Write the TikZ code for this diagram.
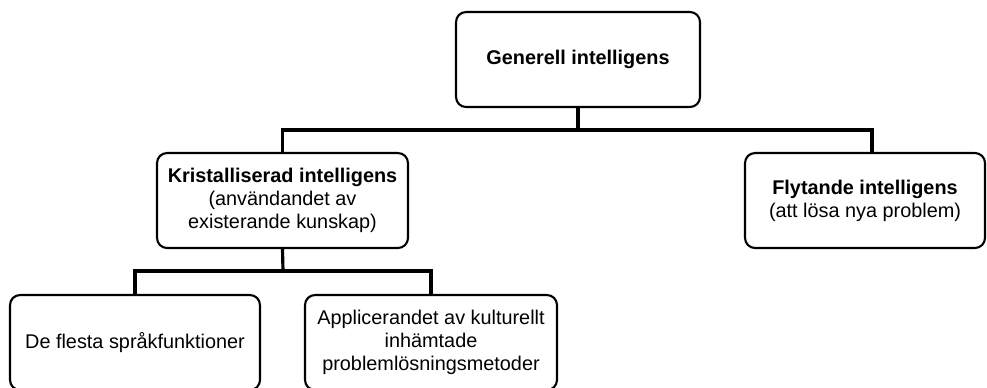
\documentclass[tikz,border=0pt]{standalone}
\usepackage{fontspec}
\setmainfont{Liberation Sans}
\usetikzlibrary{positioning}

\begin{document}
\begin{tikzpicture}[x=0.02cm,y=-0.02cm]
    \tikzset{
      box/.style={draw=black,line width=1.2pt,rounded corners=0.2cm,fill=white,
        minimum height=1.9cm,align=center,
        font=\fontsize{11.3}{13.2}\selectfont},
      link/.style={draw=black,line width=1.8pt}
    }
    \clip (0,0) rectangle (987,387);
    \node[box,minimum width=4.88cm] (gen) at (578,59.5) {\textbf{Generell intelligens}};
    \node[box,minimum width=5.02cm] (krist) at (282.5,200.5)
      {\textbf{Kristalliserad intelligens}\\(användandet av\\existerande kunskap)};
    \node[box,minimum width=4.8cm] (flyt) at (865,200.5)
      {\textbf{Flytande intelligens}\\(att lösa nya problem)};
    \node[box,minimum width=5.0cm] (sprak) at (135,342.5) {De flesta språkfunktioner};
    \node[box,minimum width=5.04cm] (appl) at (431,342.5)
      {Applicerandet av kulturellt\\inhämtade\\problemlösningsmetoder};
    % bars of the tree
    \coordinate (topbar) at (578,130);
    \coordinate (lowbar) at (283,271);
    \draw[link] (gen.south) -- (topbar);
    \draw[link] (krist.north) |- (topbar) -| ([xshift=0.14cm]flyt.north);
    \draw[link] (krist.south) -- (lowbar);
    \draw[link] (sprak.north) |- (lowbar) -| (appl.north);
  \end{tikzpicture}
\end{document}
